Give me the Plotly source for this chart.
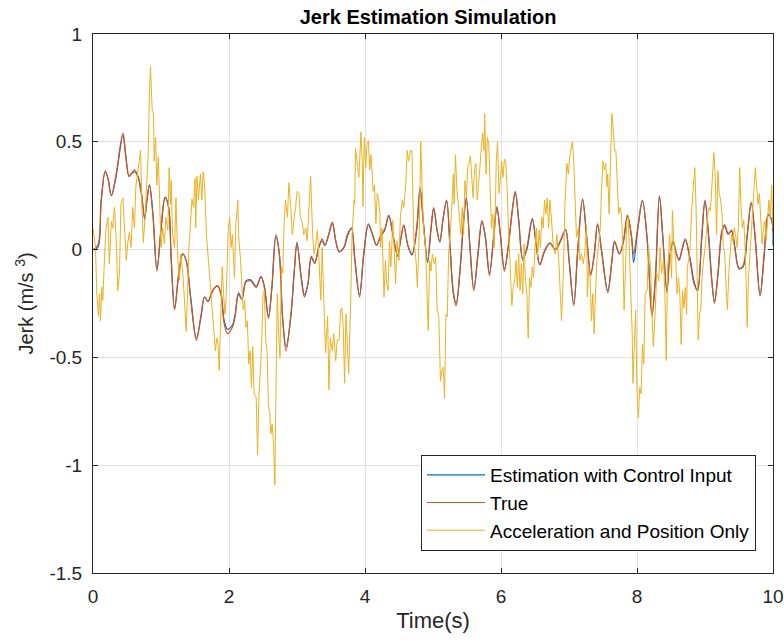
import plotly.graph_objects as go

# ---------------- data ----------------
t_smooth = [0.0, 0.07, 0.12, 0.18, 0.22, 0.27, 0.34, 0.44, 0.48, 0.53, 0.56, 0.61, 0.66, 0.71, 0.76, 0.79,
            0.83, 0.88, 0.94, 1.00, 1.06, 1.11, 1.15, 1.20, 1.26, 1.32, 1.37, 1.44, 1.52, 1.59, 1.64, 1.69,
            1.76, 1.83, 1.88, 1.93, 1.98, 2.05, 2.09, 2.14, 2.19, 2.25, 2.32, 2.40, 2.47, 2.52, 2.58, 2.63,
            2.69, 2.74, 2.79, 2.84, 2.91, 2.96, 3.00, 3.06, 3.11, 3.16, 3.21, 3.26, 3.32, 3.37, 3.41, 3.46,
            3.52, 3.57, 3.62, 3.69, 3.74, 3.80, 3.85, 3.92, 3.98, 4.05, 4.11, 4.17, 4.23, 4.29, 4.35, 4.41,
            4.48, 4.52, 4.57, 4.63, 4.69, 4.76, 4.81, 4.86, 4.92, 4.97, 5.01, 5.06, 5.10, 5.15, 5.20, 5.25,
            5.30, 5.34, 5.40, 5.45, 5.49, 5.54, 5.60, 5.66, 5.72, 5.77, 5.83, 5.89, 5.94, 5.99, 6.05, 6.11,
            6.17, 6.21, 6.26, 6.32, 6.38, 6.46, 6.52, 6.57, 6.64, 6.72, 6.80, 6.87, 6.95, 7.00, 7.07, 7.13,
            7.20, 7.26, 7.32, 7.37, 7.42, 7.48, 7.57, 7.63, 7.67, 7.74, 7.80, 7.86, 7.92, 7.95, 8.01, 8.08,
            8.15, 8.22, 8.27, 8.33, 8.38, 8.44, 8.48, 8.53, 8.58, 8.62, 8.66, 8.71, 8.78, 8.84, 8.89, 8.95,
            9.00, 9.05, 9.10, 9.14, 9.19, 9.25, 9.29, 9.34, 9.39, 9.44, 9.50, 9.56, 9.62, 9.68, 9.74, 9.81,
            9.87, 9.93, 9.98, 10.0]

jerk_true = [0.0, 0.02, 0.23, 0.365, 0.33, 0.25, 0.35, 0.54, 0.44, 0.34, 0.35, 0.37, 0.34, 0.26, 0.15, 0.22,
             0.30, 0.165, -0.10, 0.10, 0.245, 0.20, -0.05, -0.28, -0.11, -0.02, -0.05, -0.24, -0.42, -0.30, -0.22, -0.24,
             -0.19, -0.167, -0.205, -0.345, -0.39, -0.36, -0.31, -0.21, -0.23, -0.15, -0.145, -0.175, -0.125, -0.175, -0.32, -0.175,
             0.07, -0.02, -0.33, -0.47, -0.30, -0.10, 0.035, -0.13, -0.22, -0.16, -0.03, -0.065, 0.01, 0.05, 0.02, 0.065,
             0.127, 0.04, -0.01, 0.01, 0.07, 0.10, -0.05, -0.22, -0.02, 0.12, 0.07, 0.02, 0.065, 0.095, 0.16, 0.07,
             -0.03, 0.04, 0.115, 0.02, -0.02, 0.10, 0.29, 0.12, -0.05, 0.10, 0.195, 0.09, 0.04, 0.15, 0.23, 0.01,
             -0.205, -0.26, -0.08, 0.135, 0.24, 0.026, -0.19, -0.02, 0.135, 0.057, -0.12, 0.057, 0.20, 0.07, -0.10, 0.026,
             0.195, 0.27, 0.135, -0.05, 0.01, 0.145, 0.01, -0.07, -0.005, 0.03, 0.0, 0.04, 0.093, -0.05, -0.26, 0.01,
             0.235, 0.057, -0.12, -0.02, 0.12, -0.012, -0.20, -0.05, 0.04, -0.02, 0.04, 0.16, 0.057, -0.02, 0.10, 0.23,
             0.04, -0.31, -0.13, 0.25, 0.05, -0.20, -0.035, 0.04, -0.02, -0.05, 0.0, 0.05, -0.05, -0.16, -0.19, 0.057,
             0.23, 0.07, -0.145, -0.25, -0.11, 0.09, 0.115, 0.07, 0.09, 0.003, -0.09, -0.075, 0.07, 0.22, 0.04, -0.215,
             -0.02, 0.165, 0.135, 0.08]

jerk_est = [0.0, 0.01, 0.22, 0.36, 0.33, 0.25, 0.34, 0.53, 0.44, 0.34, 0.35, 0.36, 0.34, 0.27, 0.14, 0.22,
            0.30, 0.17, -0.09, 0.09, 0.24, 0.20, -0.04, -0.27, -0.12, -0.02, -0.05, -0.23, -0.41, -0.31, -0.22, -0.24,
            -0.19, -0.17, -0.20, -0.33, -0.37, -0.35, -0.30, -0.20, -0.23, -0.145, -0.14, -0.17, -0.125, -0.17, -0.31, -0.18,
            0.06, -0.02, -0.32, -0.45, -0.31, -0.10, 0.03, -0.12, -0.21, -0.16, -0.04, -0.06, 0.01, 0.04, 0.02, 0.06,
            0.12, 0.04, -0.01, 0.01, 0.06, 0.10, -0.04, -0.21, -0.03, 0.115, 0.07, 0.02, 0.06, 0.09, 0.155, 0.07,
            -0.03, 0.035, 0.11, 0.02, -0.025, 0.09, 0.28, 0.12, -0.06, 0.09, 0.19, 0.09, 0.035, 0.145, 0.225, 0.02,
            -0.20, -0.25, -0.09, 0.13, 0.235, 0.03, -0.18, -0.03, 0.13, 0.06, -0.11, 0.05, 0.195, 0.07, -0.09, 0.02,
            0.19, 0.265, 0.14, -0.04, 0.0, 0.14, 0.02, -0.07, -0.01, 0.03, 0.0, 0.035, 0.09, -0.04, -0.25, 0.0,
            0.23, 0.06, -0.11, -0.03, 0.115, -0.005, -0.19, -0.06, 0.035, -0.02, 0.035, 0.155, 0.06, -0.06, 0.09, 0.225,
            0.05, -0.30, -0.14, 0.245, 0.06, -0.19, -0.04, 0.035, -0.02, -0.045, -0.005, 0.045, -0.04, -0.15, -0.19, 0.04,
            0.225, 0.08, -0.14, -0.24, -0.12, 0.08, 0.11, 0.075, 0.085, 0.01, -0.085, -0.08, 0.06, 0.215, 0.05, -0.21,
            -0.03, 0.16, 0.14, 0.02]

t_noisy = [0.0, 0.037, 0.056, 0.081, 0.095, 0.11, 0.13, 0.144, 0.17, 0.19, 0.22, 0.24, 0.27, 0.29, 0.315, 0.34,
           0.365, 0.39, 0.41, 0.44, 0.46, 0.49, 0.51, 0.535, 0.56, 0.585, 0.61, 0.63, 0.66, 0.68, 0.70, 0.72,
           0.74, 0.765, 0.79, 0.81, 0.83, 0.845, 0.87, 0.89, 0.90, 0.92, 0.94, 0.96, 0.98, 1.00, 1.025, 1.05,
           1.07, 1.10, 1.12, 1.14, 1.15, 1.17, 1.20, 1.22, 1.245, 1.27, 1.29, 1.32, 1.34, 1.37, 1.39, 1.41,
           1.43, 1.455, 1.48, 1.50, 1.51, 1.53, 1.55, 1.58, 1.60, 1.62, 1.64, 1.67, 1.70,
           1.735, 1.76, 1.773, 1.80, 1.82, 1.84, 1.856, 1.88, 1.90, 1.92, 1.94, 1.96, 1.99, 2.01, 2.03, 2.05,
           2.08, 2.10, 2.13, 2.14, 2.17, 2.19, 2.21, 2.23, 2.25, 2.27, 2.29, 2.31, 2.33, 2.35, 2.37, 2.40,
           2.42, 2.44, 2.46, 2.48, 2.50, 2.52, 2.54, 2.56, 2.58, 2.60, 2.615, 2.635, 2.655, 2.675, 2.69, 2.71,
           2.73, 2.75, 2.77, 2.79, 2.81, 2.83, 2.86, 2.88, 2.91, 2.93, 2.96, 2.98, 3.00, 3.03, 3.05, 3.08,
           3.10, 3.13, 3.15, 3.18, 3.20, 3.23, 3.25, 3.27, 3.30,
           3.32, 3.35, 3.37, 3.40, 3.42, 3.45, 3.47, 3.49, 3.52, 3.54, 3.57, 3.59, 3.62, 3.64, 3.66, 3.68,
           3.70, 3.72, 3.74, 3.76, 3.79, 3.81, 3.84, 3.85, 3.86, 3.89, 3.91, 3.93, 3.94, 3.96, 3.97, 3.99,
           4.01, 4.03, 4.05, 4.07, 4.09, 4.12, 4.14, 4.16, 4.18, 4.20, 4.22, 4.23, 4.25, 4.28, 4.30, 4.32,
           4.34, 4.36, 4.38, 4.41, 4.42, 4.45, 4.47, 4.50, 4.52, 4.55, 4.57, 4.60, 4.62, 4.64, 4.67, 4.69,
           4.70, 4.72, 4.75, 4.77, 4.80, 4.82, 4.84, 4.86, 4.89, 4.91, 4.93, 4.95, 4.97, 4.99, 5.02, 5.04,
           5.06, 5.085, 5.11, 5.13, 5.15, 5.17, 5.19, 5.21, 5.23, 5.26, 5.28, 5.30, 5.31, 5.33, 5.35, 5.37,
           5.39, 5.41, 5.43, 5.45, 5.47, 5.49, 5.51, 5.53, 5.55, 5.57, 5.59, 5.61, 5.63, 5.65, 5.67, 5.69,
           5.71, 5.73, 5.75, 5.76, 5.78, 5.80, 5.82, 5.84, 5.86, 5.88, 5.90, 5.92, 5.93, 5.95, 5.97, 5.99,
           6.01, 6.03, 6.05, 6.07, 6.09, 6.11, 6.13, 6.15, 6.16, 6.18, 6.20, 6.22, 6.24, 6.26, 6.28, 6.30,
           6.32, 6.34, 6.36, 6.38, 6.40, 6.42, 6.44, 6.46, 6.48, 6.50, 6.52, 6.54, 6.56, 6.58, 6.60, 6.62,
           6.64, 6.66, 6.68, 6.70, 6.72, 6.74,
           6.77, 6.80, 6.82, 6.85, 6.87, 6.89, 6.92, 6.94, 6.97, 6.99, 7.01, 7.03, 7.05, 7.07, 7.09, 7.11,
           7.14, 7.16, 7.18, 7.21, 7.23, 7.26, 7.27, 7.29, 7.31, 7.33, 7.35, 7.37, 7.39, 7.41, 7.43, 7.46,
           7.48, 7.50, 7.52, 7.54, 7.56, 7.57, 7.59, 7.61, 7.63, 7.65, 7.67, 7.69, 7.71, 7.73, 7.75, 7.77,
           7.79, 7.81, 7.83, 7.85, 7.87, 7.89, 7.91, 7.93, 7.94, 7.96, 7.98, 8.00, 8.02, 8.04, 8.06, 8.08,
           8.10, 8.12, 8.15, 8.17, 8.20, 8.22, 8.24, 8.27, 8.29, 8.32, 8.34, 8.36, 8.39, 8.41, 8.43, 8.45,
           8.46, 8.48, 8.51, 8.52, 8.54, 8.57, 8.59, 8.61, 8.63, 8.65, 8.67, 8.69, 8.71, 8.73, 8.74, 8.76,
           8.78, 8.80, 8.82, 8.84, 8.85, 8.87, 8.89, 8.90, 8.92, 8.94, 8.96, 8.98, 9.00, 9.02, 9.04, 9.06,
           9.08, 9.10, 9.12, 9.13, 9.15, 9.17, 9.19, 9.21, 9.23, 9.25, 9.27, 9.29, 9.31, 9.33, 9.35, 9.37,
           9.39, 9.41, 9.43, 9.45, 9.47, 9.49, 9.51, 9.53, 9.55, 9.57, 9.59, 9.61, 9.62, 9.64, 9.66, 9.68,
           9.70, 9.72, 9.74, 9.76, 9.78, 9.80, 9.82, 9.84, 9.86, 9.88, 9.90, 9.92, 9.94, 9.96, 9.98, 10.0]

jerk_acc_pos = [0.10, 0.01, -0.205, -0.31, -0.205, -0.33, -0.175, -0.235, -0.035, 0.096, 0.15, -0.066, 0.13, 0.10, 0.196, 0.057,
                -0.19, -0.11, 0.21, 0.24, 0.12, -0.05, 0.026, 0.08, 0.01, 0.196, 0.10, 0.29, 0.366, 0.41, 0.46, 0.196,
                0.034, 0.15, 0.29, 0.43, 0.72, 0.85, 0.645, 0.63, 0.41, 0.52, 0.30, 0.43, 0.23, 0.01, 0.10, 0.026,
                0.15, 0.09, 0.38, 0.21, 0.32, 0.07, 0.01, 0.24, -0.035, -0.14, -0.02, -0.11, -0.205, -0.38, -0.205, 0.01,
                0.10, 0.235, 0.196, 0.33, 0.10, 0.34, 0.23, 0.35, 0.23, 0.36, 0.30, 0.057, -0.06,
                -0.205, -0.33, -0.39, -0.47, -0.41, -0.44, -0.56, -0.33, -0.08, -0.205, -0.30, -0.205, 0.10, 0.15, 0.01, 0.07,
                -0.13, 0.12, 0.23, 0.07, -0.05, -0.175, -0.28, -0.235, -0.36, -0.33, -0.53, -0.47, -0.64, -0.45, -0.67, -0.685,
                -0.95, -0.685, -0.56, -0.44, -0.205, -0.19, -0.42, -0.47, -0.73, -0.76, -0.855, -0.81, -0.90, -1.09, -0.67, -0.205,
                -0.39, -0.50, -0.08, -0.11, 0.12, 0.23, 0.15, 0.31, 0.196, 0.07, 0.15, 0.196, 0.27, 0.26, 0.15, 0.12,
                0.07, 0.10, 0.04, 0.23, 0.34, 0.07, -0.02, 0.01, 0.09,
                -0.02, -0.235, 0.01, -0.31, -0.48, -0.31, -0.65, -0.41, -0.47, -0.39, -0.515, -0.42, -0.42, -0.28, -0.27, -0.36,
                -0.62, -0.30, -0.45, -0.575, -0.235, 0.07, 0.23, 0.21, 0.47, 0.37, 0.335, 0.47, 0.545, 0.41, 0.20, 0.52,
                0.38, 0.49, 0.505, 0.37, 0.44, 0.27, 0.30, 0.12, 0.26, 0.23, 0.165, 0.01, 0.10, -0.22, -0.05, -0.16,
                -0.19, 0.04, -0.08, 0.135, 0.07, -0.16, 0.04, -0.05, 0.15, 0.23, 0.196, 0.30, 0.46, 0.41, 0.46, 0.46,
                0.29, 0.04, -0.05, -0.175, 0.10, 0.50, 0.29, 0.10, 0.01, -0.205, -0.375, -0.05, -0.10, -0.02, -0.066, -0.035,
                -0.28, -0.31, -0.61, -0.56, -0.545, -0.69, -0.30, -0.31, -0.02, 0.10, 0.26, 0.35, 0.21, 0.44, 0.29, 0.21,
                0.135, 0.07, 0.196, 0.07, 0.32, 0.24, 0.38, 0.40, 0.435, 0.35, 0.24, 0.366, 0.40, 0.23, 0.29, 0.38,
                0.475, 0.54, 0.46, 0.63, 0.35, 0.52, 0.49, 0.29, 0.10, 0.165, 0.01, 0.23, 0.41, 0.50, 0.26, 0.32,
                0.41, 0.335, 0.42, 0.41, 0.29, 0.10, -0.05, -0.13, -0.26, -0.175, -0.145, -0.05, -0.175, -0.02, -0.19, -0.066,
                -0.205, 0.026, -0.145, -0.205, -0.41, -0.13, -0.175, -0.08, -0.13, 0.01, 0.10, -0.035, 0.09, 0.01, 0.15, 0.10,
                0.23, 0.165, 0.24, 0.10, 0.23, 0.15,
                0.01, -0.02, 0.07, -0.05, -0.205, -0.33, -0.08, 0.21, 0.40, 0.35, 0.43, 0.46, 0.50, 0.41, 0.196, 0.057,
                0.10, -0.05, -0.02, -0.066, -0.02, 0.10, -0.22, -0.08, -0.13, -0.33, -0.205, -0.39, -0.205, -0.05, 0.01, 0.10,
                0.29, 0.41, 0.37, 0.40, 0.29, 0.35, 0.165, 0.38, 0.63, 0.565, 0.46, 0.46, 0.335, 0.165, 0.196, 0.165,
                0.04, -0.28, -0.10, 0.135, 0.15, -0.05, -0.205, -0.39, -0.62, -0.48, -0.28, -0.65, -0.78, -0.64, -0.67, -0.44,
                -0.53, -0.205, -0.19, 0.01, -0.08, -0.30, -0.45, -0.27, -0.11, -0.145, 0.01, -0.11, -0.05, -0.205, -0.515, -0.08,
                -0.05, 0.07, -0.13, 0.18, 0.04, -0.05, -0.205, -0.13, -0.205, -0.44, -0.19, -0.27, -0.175, -0.30, -0.08, -0.05,
                0.01, 0.165, 0.26, 0.366, 0.38, 0.18, -0.13, -0.42, -0.30, -0.27, -0.11, -0.05, 0.01, 0.07, 0.165, 0.196,
                0.18, 0.29, 0.41, 0.45, 0.35, 0.07, 0.366, 0.26, 0.23, 0.165, 0.01, -0.02, -0.175, -0.28, -0.11, 0.01,
                0.07, 0.04, 0.10, 0.07, 0.01, 0.10, 0.38, 0.196, 0.10, 0.135, 0.01, -0.205, -0.36, -0.13, -0.02, 0.057,
                0.18, 0.26, 0.38, 0.29, 0.21, 0.26, 0.10, 0.026, 0.10, 0.135, 0.04, 0.12, 0.23, 0.15, 0.30, 0.10]

x_ticks = [0, 2, 4, 6, 8, 10]
x_tick_labels = ["0", "2", "4", "6", "8", "10"]
y_ticks = [1, 0.5, 0, -0.5, -1, -1.5]
y_tick_labels = ["1", "0.5", "0", "-0.5", "-1", "-1.5"]

# ---------------- figure ----------------
FONT = "Liberation Sans, Arial, Helvetica, sans-serif"
AX = "#262626"
GRID = "#e0e0e0"

fig = go.Figure()
fig.add_trace(go.Scatter(x=t_smooth, y=jerk_est, mode="lines", name="Estimation with Control Input",
                         line=dict(color="#0072BD", width=1.2, shape="spline", smoothing=1.0)))
fig.add_trace(go.Scatter(x=t_smooth, y=jerk_true, mode="lines", name="True",
                         line=dict(color="#D95319", width=1.2, shape="spline", smoothing=1.0)))
fig.add_trace(go.Scatter(x=t_noisy, y=jerk_acc_pos, mode="lines", name="Acceleration and Position Only",
                         line=dict(color="#EDB120", width=1)))

fig.update_layout(
    width=784, height=640,
    margin=dict(l=93, r=11, t=34, b=67),
    paper_bgcolor="white", plot_bgcolor="white",
    font=dict(family=FONT, color=AX, size=19),
    title=dict(text="<b>Jerk Estimation Simulation</b>", x=0.546, xanchor="center",
               y=1 - 17 / 640, yanchor="middle", font=dict(size=20, color="black", family=FONT)),
    legend=dict(x=0.975, xanchor="right", y=0.13, yanchor="middle",
                bgcolor="white", bordercolor=AX, borderwidth=1, itemwidth=58,
                font=dict(size=19, color="black", family=FONT), tracegroupgap=0),
    showlegend=True,
)
fig.update_xaxes(range=[0, 10], tickvals=x_ticks, ticktext=x_tick_labels, automargin=False,
                 ticklabeloverflow="allow",
                 showline=True, linecolor=AX, linewidth=1, mirror="ticks",
                 ticks="inside", ticklen=5, tickcolor=AX, tickfont=dict(size=19, color=AX),
                 ticklabelstandoff=6,
                 showgrid=True, gridcolor=GRID, gridwidth=1, zeroline=False,
                 title=dict(text="Time(s)", font=dict(size=22, color=AX), standoff=6))
fig.update_yaxes(range=[-1.5, 1], tickvals=y_ticks, ticktext=y_tick_labels, automargin=False,
                 ticklabeloverflow="allow",
                 showline=True, linecolor=AX, linewidth=1, mirror="ticks",
                 ticks="inside", ticklen=5, tickcolor=AX, tickfont=dict(size=19, color=AX),
                 ticklabelstandoff=6,
                 showgrid=True, gridcolor=GRID, gridwidth=1, zeroline=False,
                 title=dict(text="Jerk (m/s <sup>3</sup>)", font=dict(size=20, color=AX), standoff=10))

fig.write_html("out.html")
